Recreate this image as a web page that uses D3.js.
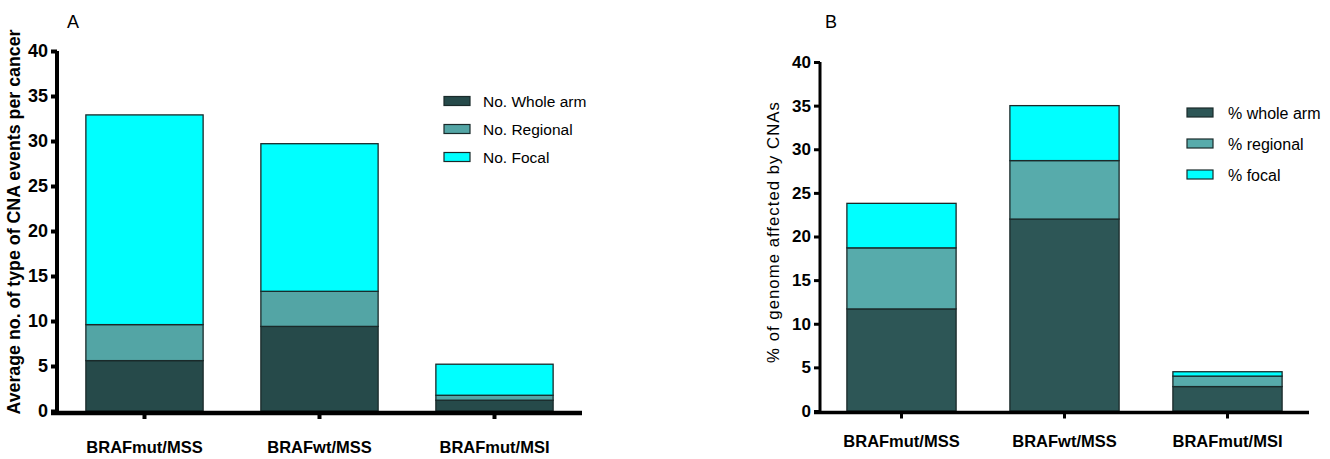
<!DOCTYPE html>
<html>
<head>
<meta charset="utf-8">
<title>CNA stacked bars</title>
<script src="https://cdn.jsdelivr.net/npm/d3@7/dist/d3.min.js"></script>
<style>
  body { margin: 0; background: #fff; }
  text { font-family: Arial, "Liberation Sans", sans-serif; fill: #000; }
</style>
</head>
<body>
<script>
// data
var groups = ["BRAFmut/MSS", "BRAFwt/MSS", "BRAFmut/MSI"];
var yTicks = [0, 5, 10, 15, 20, 25, 30, 35, 40];

// panel A: average number of CNA events per cancer
var legendA = ["No. Whole arm", "No. Regional", "No. Focal"];
var wholeA = [5.6, 9.4, 1.2];
var regionalA = [4.0, 3.9, 0.55];
var focalA = [23.3, 16.4, 3.45];

// panel B: % of genome affected
var legendB = ["% whole arm", "% regional", "% focal"];
var wholeB = [11.7, 22.0, 2.8];
var regionalB = [7.0, 6.7, 1.2];
var focalB = [5.1, 6.3, 0.5];

var width = 1330, height = 459;
var svg = d3.select("body").append("svg")
    .attr("width", width).attr("height", height);

function panel(opt) {
  var x = d3.scaleBand().domain(groups).range([opt.x0, opt.x1]).paddingInner(opt.pad).paddingOuter(opt.pad / 2);
  var y = d3.scaleLinear().domain([0, 40]).range([411, opt.yTop]);
  var keys = ["whole", "regional", "focal"];
  var rows = groups.map(function(g, i) {
    return { g: g, whole: opt.series[0][i], regional: opt.series[1][i], focal: opt.series[2][i] };
  });
  var stack = d3.stack().keys(keys)(rows);
  var colors = opt.colors;

  var g = svg.append("g");

  g.selectAll(".layer")
    .data(stack)
    .enter().append("g")
    .attr("fill", function(d, i) { return colors[i]; })
    .selectAll("rect")
    .data(function(d) { return d; })
    .enter().append("rect")
    .attr("x", function(d) { return x(d.data.g); })
    .attr("width", x.bandwidth())
    .attr("y", function(d) { return y(d[1]); })
    .attr("height", function(d) { return y(d[0]) - y(d[1]); })
    .attr("stroke", "#1a2a2a")
    .attr("stroke-width", 1.3);

  // y axis
  var yAxis = d3.axisLeft(y).tickValues(yTicks).tickSize(opt.tick).tickPadding(3);
  var ya = g.append("g")
    .attr("transform", "translate(" + opt.x0 + ",0)")
    .call(yAxis);
  ya.select(".domain").attr("stroke-width", opt.axisW).attr("d", "M0," + y(40) + "V" + y(0));
  ya.selectAll(".tick line").attr("stroke-width", opt.axisW);
  ya.selectAll(".tick text")
    .style("font-size", opt.tickFont + "px")
    .style("font-weight", "bold")
    .attr("fill", "#000");

  // x axis
  var xAxis = d3.axisBottom(x).tickSize(6).tickSizeOuter(0).tickPadding(opt.xPad);
  var xa = g.append("g")
    .attr("transform", "translate(0," + (411 + opt.axisW / 2) + ")")
    .call(xAxis);
  xa.select(".domain").attr("stroke-width", opt.axisW + 0.5)
    .attr("d", "M" + (opt.x0 - 6) + ",0H" + opt.x1);
  xa.selectAll(".tick line").attr("stroke-width", opt.axisW);
  xa.selectAll(".tick text")
    .style("font-size", "16.5px")
    .style("font-weight", "bold")
    .attr("fill", "#000");

  // y title
  g.append("text")
    .attr("transform", "translate(" + opt.titleX + "," + opt.titleY + ") rotate(-90)")
    .attr("text-anchor", "middle")
    .style("font-size", opt.titleFont + "px")
    .style("font-weight", opt.titleBold ? "bold" : "normal")
    .style("letter-spacing", opt.titleSpacing)
    .text(opt.title);

  // panel letter
  g.append("text")
    .attr("x", opt.letterX).attr("y", 28)
    .style("font-size", "18px")
    .text(opt.letter);

  // legend
  var lg = g.selectAll(".leg")
    .data(opt.legend)
    .enter().append("g")
    .attr("transform", function(d, i) { return "translate(" + opt.legX + "," + (opt.legY + i * opt.legStep) + ")"; });
  lg.append("rect")
    .attr("x", 0).attr("y", -4.5).attr("width", 26).attr("height", 9)
    .attr("fill", function(d, i) { return colors[i]; })
    .attr("stroke", "#1a2a2a").attr("stroke-width", 1.2);
  lg.append("text")
    .attr("x", opt.legTextX).attr("y", 6)
    .style("font-size", opt.legFont + "px")
    .text(function(d) { return d; });
}

panel({
  x0: 57, x1: 582, pad: 0.33, yTop: 51, axisW: 4, tick: 6, tickFont: 18, xPad: 22,
  series: [wholeA, regionalA, focalA],
  colors: ["#264a4a", "#53a5a5", "#00ffff"],
  title: "Average no. of type of CNA events per cancer", titleX: 20, titleY: 222, titleBold: true, titleSpacing: "0px", titleFont: 17.8,
  letter: "A", letterX: 67,
  legend: legendA, legX: 444, legY: 101, legStep: 28, legTextX: 39, legFont: 15.5
});

panel({
  x0: 820, x1: 1309, pad: 0.33, yTop: 62, axisW: 3, tick: 6, tickFont: 17, xPad: 17,
  series: [wholeB, regionalB, focalB],
  colors: ["#2d5656", "#57abab", "#00ffff"],
  title: "% of genome affected by  CNAs", titleX: 779, titleY: 232, titleBold: false, titleSpacing: "1px", titleFont: 16.8,
  letter: "B", letterX: 825,
  legend: legendB, legX: 1187, legY: 112.5, legStep: 31, legTextX: 41, legFont: 16
});
</script>
</body>
</html>
